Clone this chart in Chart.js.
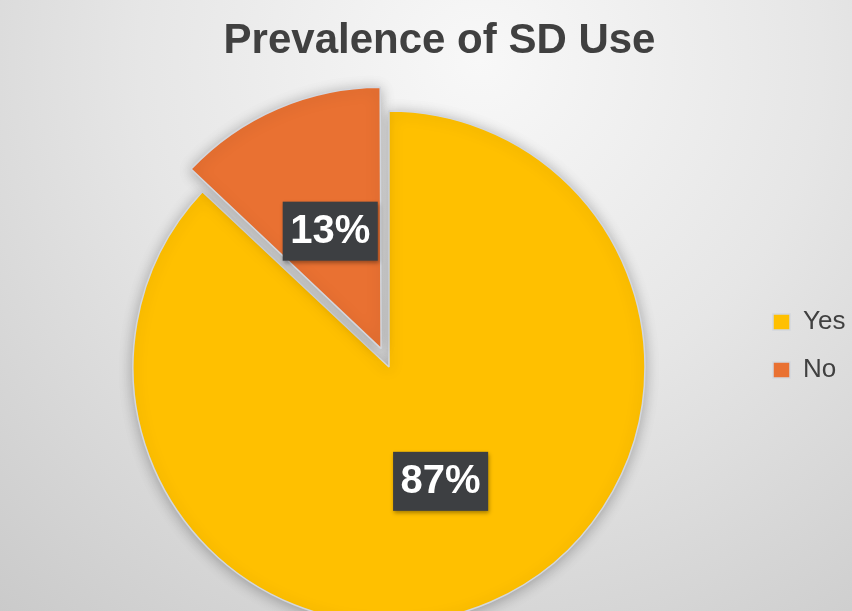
<!DOCTYPE html>
<html>
<head>
<meta charset="utf-8">
<script src="https://cdn.jsdelivr.net/npm/chart.js@4/dist/chart.umd.min.js"></script>
<style>
  html, body { margin: 0; padding: 0; background: #e6e6e6; }
  #wrap { width: 852px; height: 611px; position: relative; }
  canvas { display: block; }
</style>
</head>
<body>
<div id="wrap"><canvas id="c" width="852" height="611"></canvas></div>
<script>
// ---- data ----
const categories = ['Yes', 'No'];
const values = [87, 13];
const sliceColors = ['#FFC000', '#E97132'];
const titleText = 'Prevalence of SD Use';

// ---- label placement style (polar, relative to slice apex) ----
const labelAngleDeg = [155.7, null];   // null -> slice mid-angle; degrees clockwise from top
const labelRadiusFrac = [0.49, 0.5];

const bgPlugin = {
  id: 'bg',
  beforeDraw(chart) {
    const { ctx, width, height } = chart;
    ctx.save();
    const g = ctx.createRadialGradient(480, 60, 0, 480, 60, 760);
    g.addColorStop(0, '#f8f8f8');
    g.addColorStop(0.45, '#e6e6e6');
    g.addColorStop(1, '#c8c8c8');
    ctx.fillStyle = g;
    ctx.fillRect(0, 0, width, height);
    ctx.restore();
  }
};

const shadowPlugin = {
  id: 'pieShadow',
  beforeDatasetsDraw(chart) {
    const ctx = chart.ctx;
    ctx.save();
    ctx.shadowColor = 'rgba(0,0,0,0.28)';
    ctx.shadowBlur = 14;
    ctx.shadowOffsetX = 0;
    ctx.shadowOffsetY = 2;
  },
  afterDatasetsDraw(chart) {
    chart.ctx.restore();
  }
};

const labelPlugin = {
  id: 'sliceLabels',
  afterDatasetsDraw(chart) {
    const ctx = chart.ctx;
    const meta = chart.getDatasetMeta(0);
    const total = values.reduce((a, b) => a + b, 0);
    meta.data.forEach((arc, i) => {
      const p = arc.getProps(['x', 'y', 'startAngle', 'endAngle', 'outerRadius'], true);
      const mid = (p.startAngle + p.endAngle) / 2;
      const off = (arc.options.offset || 0) / 4;   // Chart.js arc translates by offset/4
      const cx = p.x + Math.cos(mid) * off;
      const cy = p.y + Math.sin(mid) * off;
      const a = labelAngleDeg[i] == null ? mid : (labelAngleDeg[i] - 90) * Math.PI / 180;
      const r = p.outerRadius * labelRadiusFrac[i];
      const lx = cx + Math.cos(a) * r;
      const ly = cy + Math.sin(a) * r;
      const txt = Math.round(values[i] / total * 100) + '%';
      ctx.save();
      ctx.font = 'bold 40px "Liberation Sans", Arial, sans-serif';
      const tw = ctx.measureText(txt).width;
      const bw = tw + 15, bh = 59;
      ctx.shadowColor = 'rgba(0,0,0,0.35)';
      ctx.shadowBlur = 4;
      ctx.shadowOffsetX = 1;
      ctx.shadowOffsetY = 2;
      ctx.fillStyle = '#3d3f42';
      ctx.fillRect(lx - bw / 2, ly - bh / 2, bw, bh);
      ctx.shadowColor = 'transparent';
      ctx.fillStyle = '#ffffff';
      ctx.textAlign = 'center';
      ctx.textBaseline = 'middle';
      ctx.fillText(txt, lx, ly + 1);
      ctx.restore();
    });
  }
};

new Chart(document.getElementById('c'), {
  type: 'pie',
  data: {
    labels: categories,
    datasets: [{
      data: values,
      backgroundColor: sliceColors,
      borderColor: '#d3d7de',
      borderWidth: 1.5,
      offset: [0, 80],
      radius: 256,
      clip: false
    }]
  },
  options: {
    responsive: false,
    animation: false,
    devicePixelRatio: 1,
    layout: { padding: { left: 27, right: 0, top: 0, bottom: 0 } },
    plugins: {
      title: {
        display: true,
        text: titleText,
        color: '#404040',
        font: { family: '"Liberation Sans", Arial, sans-serif', size: 42, weight: 'bold' },
        padding: { top: 16, bottom: 56.6 }
      },
      legend: {
        position: 'right',
        maxWidth: 101,
        title: {
          display: true,
          text: '',
          font: { size: 10 },
          padding: { top: 69, bottom: 0 }
        },
        labels: {
          color: '#404040',
          font: { family: '"Liberation Sans", Arial, sans-serif', size: 26 },
          boxWidth: 17,
          boxHeight: 16,
          padding: 22
        }
      },
      tooltip: { enabled: false }
    }
  },
  plugins: [bgPlugin, shadowPlugin, labelPlugin]
});
</script>
</body>
</html>
